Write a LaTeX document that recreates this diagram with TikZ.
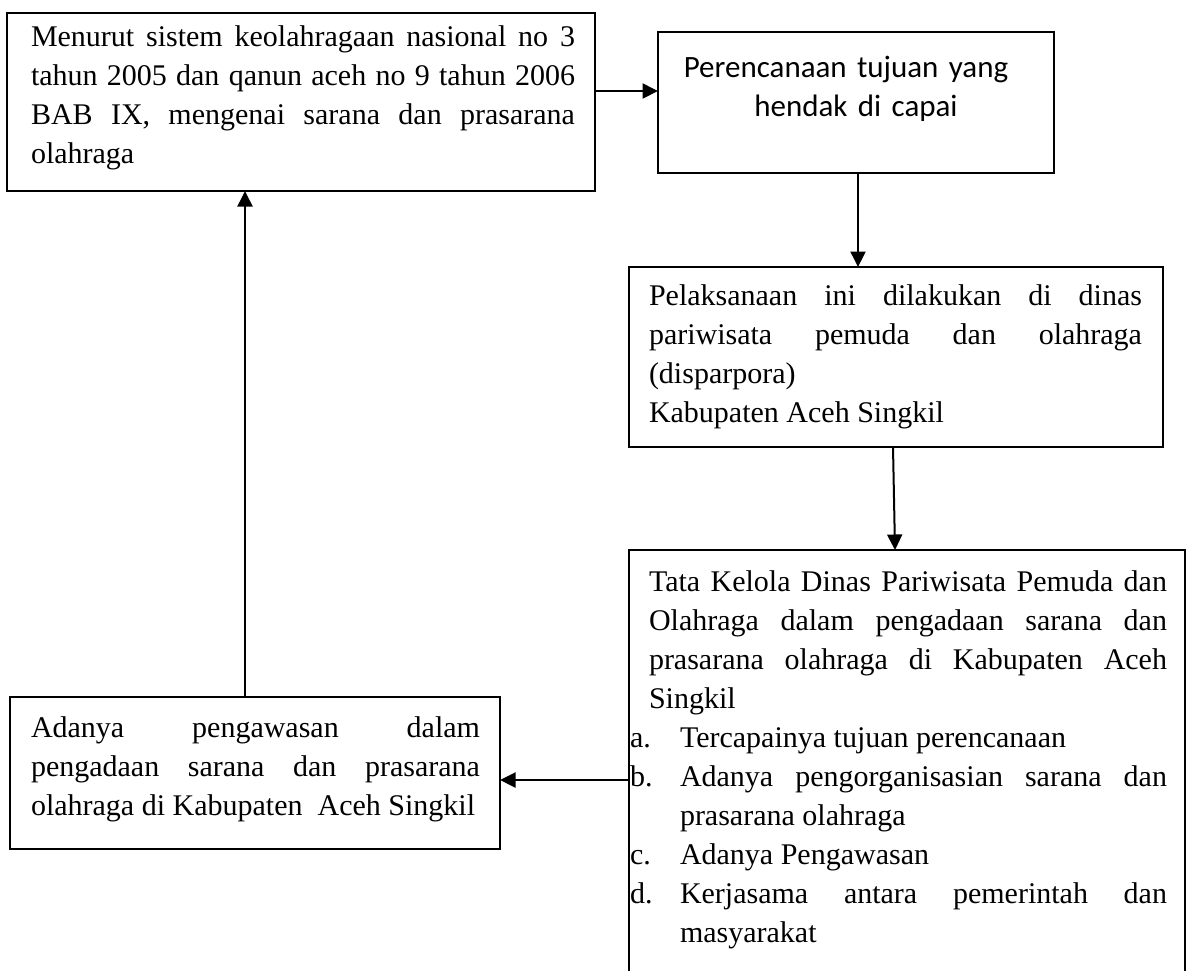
\documentclass[tikz,border=0pt]{standalone}
\usepackage{fontspec}
\setmainfont{Liberation Serif}
\newfontfamily\calfont{Carlito}
\usetikzlibrary{arrows.meta}
\tolerance=10000
\hbadness=10000
\newcommand\tf{\fontsize{30}{39}\selectfont}
\newcommand\cff{\calfont\fontsize{31}{39}\selectfont}
\tikzset{
  box/.style={draw, line width=1.8pt, inner sep=0pt, outer sep=0pt, anchor=north west},
  txt/.style={anchor=north west, inner sep=0pt, outer sep=0pt, align=justify, font=\tf},
  lbl/.style={anchor=base west, inner sep=0pt, outer sep=0pt, font=\tf},
  arr/.style={line width=2pt, -{Triangle[length=15.5pt,width=15pt]}}
}
\begin{document}
\begin{tikzpicture}[x=1pt,y=-1pt]
\fill[white] (0,0) rectangle (1196,970);
\useasboundingbox (0,0) rectangle (1196,970);
% boxes
\node[box, minimum width=588pt, minimum height=178pt] (b1) at (7,13) {};
\node[box, minimum width=396pt, minimum height=141pt] (b2) at (658,32) {};
\node[box, minimum width=534pt, minimum height=180pt] (b3) at (629,267) {};
\node[box, draw=none, minimum width=556pt, minimum height=450pt] (b4) at (629,550) {};
\draw[line width=1.8pt] (b4.south west) -- (b4.north west) -- (b4.north east) -- (b4.south east);
\node[box, minimum width=490pt, minimum height=152pt] (b5) at (10,697) {};
% texts
\node[txt, text width=544pt] (t1) at (31,18.7) {\strut Menurut sistem keolahragaan nasional no 3\linebreak tahun 2005 dan qanun aceh no 9 tahun 2006\linebreak BAB IX, mengenai sarana dan prasarana\linebreak olahraga};
\node[anchor=north, inner sep=0pt, align=center, text width=390pt, font=\cff] (t2) at (856,49.7) {\strut Perencanaan tujuan yang\rule{20pt}{0pt}\\ hendak di capai};
\node[txt, text width=493pt] (t3) at (649,277.7) {\strut Pelaksanaan ini dilakukan di dinas\linebreak pariwisata pemuda dan olahraga\linebreak (disparpora)\hfil\break Kabupaten Aceh Singkil};
\node[txt, text width=518pt] (t4) at (649,563.7) {\strut Tata Kelola Dinas Pariwisata Pemuda dan\linebreak Olahraga dalam pengadaan sarana dan\linebreak prasarana olahraga di Kabupaten Aceh\linebreak Singkil};
\node[lbl] (la) at (630,747) {a.};
\node[txt, text width=487pt] (ia) at (680,719.7) {\strut Tercapainya tujuan perencanaan};
\node[lbl] (lb) at (630,786) {b.};
\node[txt, text width=487pt] (ib) at (680,758.7) {\strut Adanya pengorganisasian sarana dan\linebreak prasarana olahraga};
\node[lbl] (lc) at (630,864) {c.};
\node[txt, text width=487pt] (ic) at (680,836.7) {\strut Adanya Pengawasan};
\node[lbl] (ld) at (630,903) {d.};
\node[txt, text width=487pt] (id) at (680,875.7) {\strut Kerjasama antara pemerintah dan\linebreak masyarakat};
\node[txt, text width=449pt] (t5) at (31,709.7) {\strut Adanya pengawasan dalam\linebreak pengadaan sarana dan prasarana\linebreak olahraga di Kabupaten\ \ Aceh Singkil};
% connectors
\coordinate (y12) at (0,91);
\coordinate (x23) at (858,0);
\coordinate (x3a) at (893,0);
\coordinate (x3b) at (895,0);
\coordinate (y45) at (0,780);
\coordinate (x51) at (245,0);
\draw[arr] (b1.east |- y12) -- (b2.west |- y12);
\draw[arr] (b2.south -| x23) -- (b3.north -| x23);
\draw[arr] (b3.south -| x3a) -- (b4.north -| x3b);
\draw[arr] (b4.west |- y45) -- (b5.east |- y45);
\draw[arr] (b5.north -| x51) -- (b1.south -| x51);
\end{tikzpicture}
\end{document}
